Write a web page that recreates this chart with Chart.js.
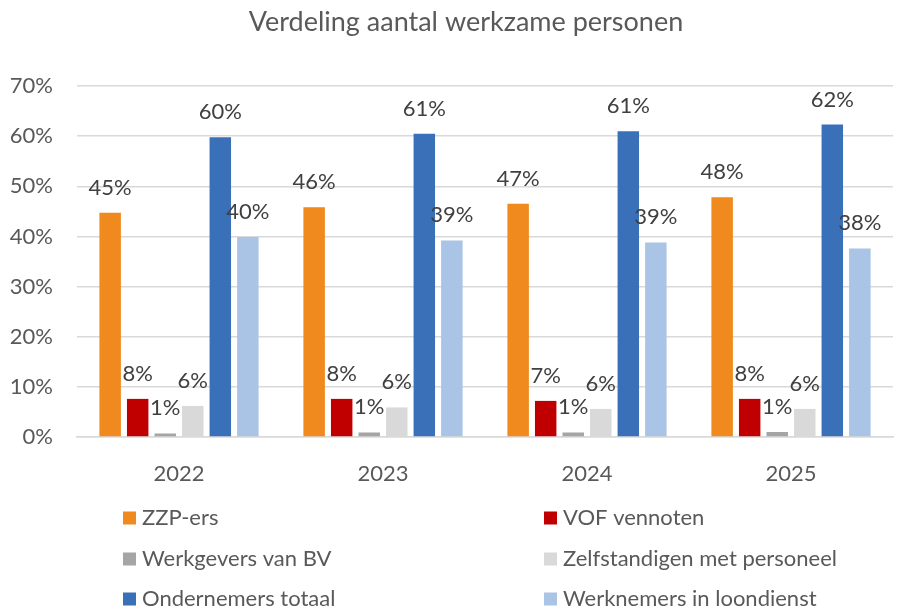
<!DOCTYPE html>
<html>
<head>
<meta charset="utf-8">
<script src="https://cdn.jsdelivr.net/npm/chart.js@4"></script>
<style>
  html, body { margin: 0; padding: 0; background: #fff; }
  #wrap { width: 898px; height: 611px; }
</style>
</head>
<body>
<div id="wrap"><canvas id="chart"></canvas></div>
<script>
const years = ["2022", "2023", "2024", "2025"];
const seriesNames = ["ZZP-ers", "VOF vennoten", "Werkgevers van BV", "Zelfstandigen met personeel", "Ondernemers totaal", "Werknemers in loondienst"];
const zzp = [44.7, 45.8, 46.5, 47.8];
const vof = [7.6, 7.6, 7.2, 7.6];
const werkgeversBV = [0.7, 0.9, 0.9, 1.0];
const zelfstandigen = [6.2, 5.9, 5.6, 5.6];
const ondernemers = [59.8, 60.5, 61.0, 62.3];
const werknemers = [39.9, 39.2, 38.8, 37.6];
const yTicks = [0, 10, 20, 30, 40, 50, 60, 70];
const titleText = "Verdeling aantal werkzame personen";

const colors = ["#F0891E", "#C00000", "#A5A5A5", "#D9D9D9", "#3A70B8", "#A9C4E4"];
const allValues = [zzp, vof, werkgeversBV, zelfstandigen, ondernemers, werknemers];

const FONT = "Lato, 'Open Sans', sans-serif";

// titel iets rechts van het midden, zoals in het origineel
const chartTitle = {
  id: "chartTitle",
  afterDraw(chart) {
    const ctx = chart.ctx;
    ctx.save();
    ctx.font = "27px " + FONT;
    ctx.fillStyle = "#595959";
    ctx.textAlign = "center";
    ctx.textBaseline = "middle";
    ctx.fillText(titleText, 466, 22);
    ctx.restore();
  }
};

// waardes boven de staven
const barLabels = {
  id: "barLabels",
  afterDatasetsDraw(chart) {
    const ctx = chart.ctx;
    ctx.save();
    ctx.font = "22px " + FONT;
    ctx.fillStyle = "#404040";
    ctx.textAlign = "center";
    ctx.textBaseline = "alphabetic";
    chart.data.datasets.forEach((ds, i) => {
      chart.getDatasetMeta(i).data.forEach((bar, j) => {
        ctx.fillText(Math.round(ds.data[j]) + "%", bar.x, bar.y - 18);
      });
    });
    ctx.restore();
  }
};

// legenda in twee kolommen
const gridLegend = {
  id: "gridLegend",
  afterDraw(chart) {
    const ctx = chart.ctx;
    const colX = [123, 544];
    const rowY = [518, 559, 599];
    ctx.save();
    ctx.font = "22px " + FONT;
    ctx.textBaseline = "middle";
    chart.data.datasets.forEach((ds, i) => {
      const x = colX[i % 2];
      const y = rowY[Math.floor(i / 2)];
      ctx.fillStyle = ds.backgroundColor;
      ctx.fillRect(x, y - 6.5, 13, 13);
      ctx.fillStyle = "#595959";
      ctx.fillText(ds.label, x + 19, y);
    });
    ctx.restore();
  }
};

new Chart(document.getElementById("chart"), {
  type: "bar",
  data: {
    labels: years,
    datasets: seriesNames.map((name, i) => ({
      label: name,
      data: allValues[i],
      backgroundColor: colors[i],
      categoryPercentage: 0.81,
      barPercentage: 0.78
    }))
  },
  options: {
    responsive: true,
    maintainAspectRatio: false,
    animation: false,
    layout: { padding: { left: 0, right: 5, top: 86, bottom: 130 } },
    plugins: {
      legend: { display: false },
      tooltip: { enabled: false },
      title: { display: false }
    },
    scales: {
      x: {
        grid: { display: false },
        border: { color: "#D9D9D9", width: 1.5 },
        ticks: { color: "#595959", font: { family: FONT, size: 22 }, padding: 16 },
        afterFit: (s) => { s.height = 44; }
      },
      y: {
        min: 0,
        max: 70,
        afterBuildTicks: (s) => { s.ticks = yTicks.map((v) => ({ value: v })); },
        grid: { color: "#D9D9D9", lineWidth: 1.5, drawTicks: false },
        border: { display: false },
        ticks: {
          color: "#595959",
          font: { family: FONT, size: 22 },
          padding: 24,
          callback: (v) => v + "%"
        },
        afterFit: (s) => { s.width = 77; }
      }
    }
  },
  plugins: [chartTitle, barLabels, gridLegend]
});
</script>
</body>
</html>
